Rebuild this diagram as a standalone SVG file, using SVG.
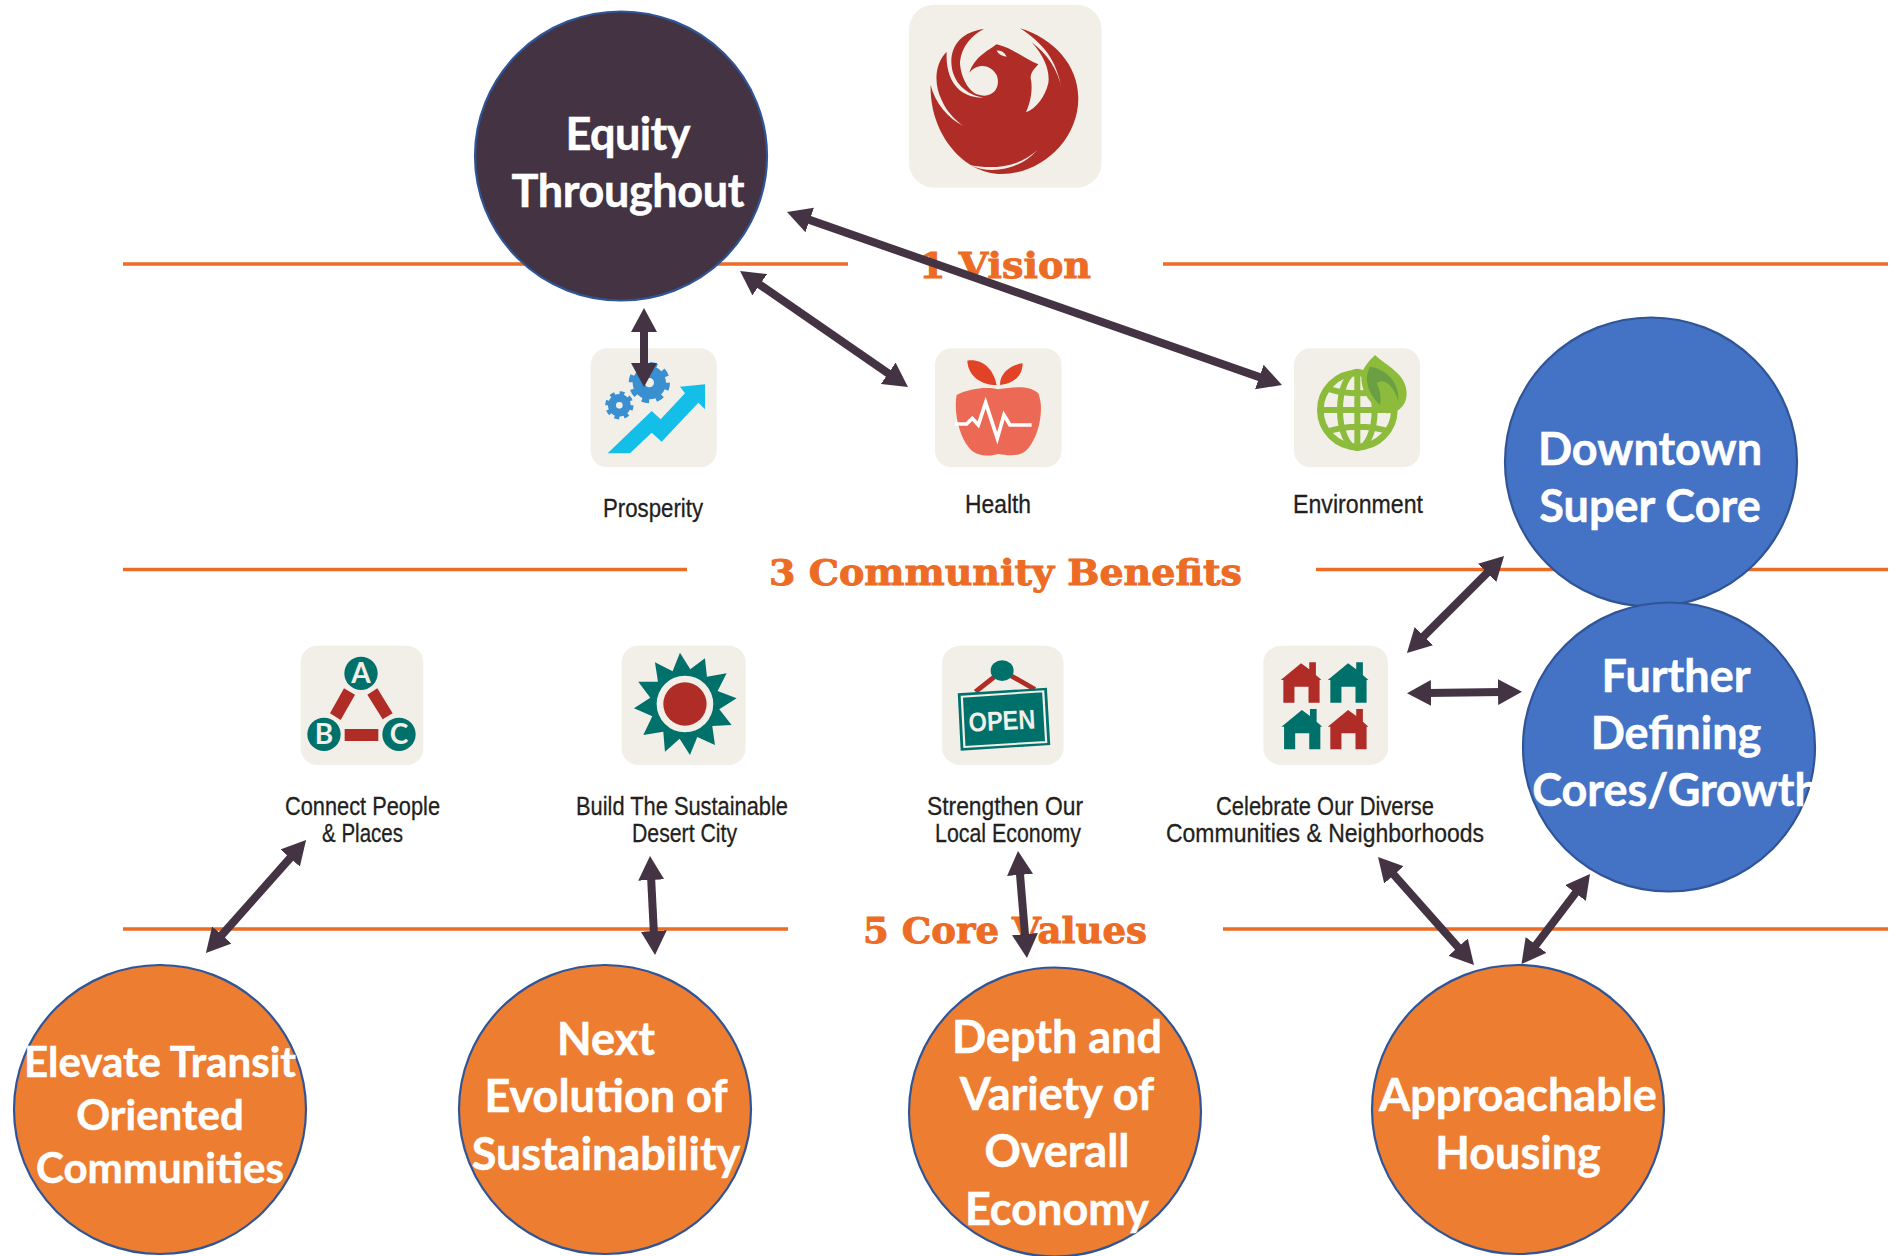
<svg xmlns="http://www.w3.org/2000/svg" width="1901" height="1256" viewBox="0 0 1901 1256">
<style>
.rule{stroke:#EC6B25;stroke-width:3.5;fill:none}
.head{font-family:"DejaVu Serif",serif;font-weight:700;font-size:35px;fill:#EC6B25;stroke:#EC6B25;stroke-width:.9}
.c{stroke:#2F5597;stroke-width:2.2}
.dark{fill:#433343}.blue{fill:#4472C4}.orange{fill:#ED7D31}
.t{font-family:Lato,"Open Sans",sans-serif;font-weight:700;font-size:45px;fill:#fff;stroke:#fff;stroke-width:.5;text-anchor:middle}
.e{font-size:42px}
.l{font-family:"Liberation Sans Narrow","Liberation Sans",sans-serif;font-size:26px;fill:#231f20;stroke:#231f20;stroke-width:.3}
.tile{fill:#F1EFE8}
.arr{stroke:#433343;stroke-width:8;fill:none;marker-start:url(#ah);marker-end:url(#ah)}
.teal{fill:#00716A}.red{fill:#B02D27}
</style>
<defs>
<marker id="ah" markerUnits="userSpaceOnUse" markerWidth="25" markerHeight="26" refX="4" refY="13" orient="auto-start-reverse"><path d="M0 0L24 13L0 26Z" fill="#433343"/></marker>
<path id="house" d="M975 150L1030 100L1052 118V97H1070V135L1085 150H1080V218H1050V170H1012V218H982V150Z"/>
</defs>
<rect width="1901" height="1256" fill="#fff"/>
<g id="rules">
<path class="rule" d="M123 264H848M1163 264H1888M123 569.5H687M1316 569.5H1888M123 929H788M1223 929H1888"/>
<text class="head" x="919" y="278" textLength="172" lengthAdjust="spacingAndGlyphs">1 Vision</text>
<text class="head" x="769" y="585" textLength="473" lengthAdjust="spacingAndGlyphs">3 Community Benefits</text>
<text class="head" x="863" y="943" textLength="284" lengthAdjust="spacingAndGlyphs">5 Core Values</text>
</g>
<g id="logo" transform="translate(880 0) scale(.3333)">
<rect class="tile" x="87" y="14" width="578" height="549" rx="75"/>
<path class="red" d="M152 255C148 400 250 522 365 522C485 522 595 420 595 295C595 195 520 115 420 85C490 130 530 180 545 268C535 210 500 160 455 127C495 170 510 215 505 250C495 290 470 325 438 337C455 300 458 260 452 235C452 215 465 205 475 193C440 180 400 145 350 133C320 155 285 170 268 218C290 190 330 190 350 225C365 265 335 295 300 285C265 280 240 225 240 185C245 140 275 105 312 87C250 95 215 130 214 185C215 235 245 280 310 293C250 295 195 255 200 155C165 190 160 250 185 300C200 335 225 360 250 378C205 355 165 310 152 255Z"/>
<path fill="#F1EFE8" d="M270 495C340 510 420 500 472 450C420 510 330 525 270 495ZM350 152C365 150 375 160 380 170C365 168 355 162 350 152Z"/>
</g>
<g id="prosperity">
<g transform="translate(570 330) scale(.3333)">
<rect class="tile" x="62" y="55" width="378" height="357" rx="50"/>
<path fill="#13BEE8" d="M113 370L245 243L272 268L345 190L330 170L405 163V238L385 218L275 335L245 308L180 370Z"/>
<circle cx="238" cy="158" r="32" fill="#F1EFE8" stroke="#3A8FD0" stroke-width="36"/>
<circle cx="238" cy="158" r="55" fill="none" stroke="#3A8FD0" stroke-width="14" stroke-dasharray="22 21.2"/>
<circle cx="148" cy="226" r="22" fill="#F1EFE8" stroke="#3A8FD0" stroke-width="24"/>
<circle cx="148" cy="226" r="37" fill="none" stroke="#3A8FD0" stroke-width="11" stroke-dasharray="14.5 14.5"/>
</g>
<text class="l" x="603" y="517" textLength="100" lengthAdjust="spacingAndGlyphs">Prosperity</text>
</g>
<g id="health">
<g transform="translate(570 330) scale(.3333)">
<rect class="tile" x="1095" y="55" width="380" height="357" rx="50"/>
<path fill="#E24327" d="M1192 92C1230 85 1270 110 1280 165C1235 165 1195 140 1192 92ZM1290 165C1290 130 1320 105 1358 100C1358 140 1330 160 1290 165Z"/>
<path fill="#EC6A55" d="M1160 195C1200 175 1250 170 1285 178C1330 170 1380 165 1405 190C1425 240 1405 320 1375 355C1350 385 1310 375 1285 372C1260 380 1215 380 1195 350C1170 320 1150 250 1160 195Z"/>
<path fill="none" stroke="#fff" stroke-width="11" d="M1155 282H1190L1207 265L1225 285L1247 218L1282 325L1302 255L1320 285H1385"/>
</g>
<text class="l" x="965" y="513" textLength="66" lengthAdjust="spacingAndGlyphs">Health</text>
</g>
<g id="environment">
<g transform="translate(1270 330) scale(.3333)">
<rect class="tile" x="72" y="55" width="378" height="357" rx="50"/>
<circle cx="262" cy="240" r="111" fill="#F1EFE8" stroke="#8DBB3C" stroke-width="20"/>
<g fill="none" stroke="#8DBB3C" stroke-width="18"><ellipse cx="262" cy="240" rx="52" ry="115"/><path d="M262 125V355M150 240H375M170 175C230 195 300 195 360 175M170 305C230 285 300 285 360 305"/></g>
<path fill="#8DBB3C" d="M315 75C345 105 410 130 410 190C410 235 375 250 350 250C310 235 268 190 275 130C285 105 300 90 315 75Z"/>
<path fill="#6A9F43" d="M300 110C340 115 390 150 385 215C375 170 340 140 320 160C330 180 335 205 330 225C295 190 280 150 300 110Z"/>
</g>
<text class="l" x="1293" y="513" textLength="130" lengthAdjust="spacingAndGlyphs">Environment</text>
</g>
<g id="connect">
<g transform="translate(270 630) scale(.3333)">
<rect class="tile" x="92" y="47" width="368" height="358" rx="50"/>
<path class="red" d="M222 175L255 194L212 270L180 250ZM292 194L322 175L368 250L338 268ZM224 297H325V333H224Z"/>
<g class="teal"><circle cx="273" cy="130" r="50"/><circle cx="162" cy="313" r="50"/><circle cx="387" cy="313" r="50"/></g>
</g>
<g font-family="Lato,sans-serif" font-weight="700" font-size="28" fill="#F1EFE8" text-anchor="middle"><text x="361" y="683">A</text><text x="324" y="744">B</text><text x="399" y="744">C</text></g>
<text class="l" x="285" y="815" textLength="155" lengthAdjust="spacingAndGlyphs">Connect People</text>
<text class="l" x="322" y="842" textLength="81" lengthAdjust="spacingAndGlyphs">&amp; Places</text>
</g>
<g id="sustainable">
<g transform="translate(270 630) scale(.3333)">
<rect class="tile" x="1055" y="47" width="372" height="358" rx="50"/>
<path class="teal" d="M1230 68L1261 118L1305 85L1311 140L1370 130L1343 183L1400 205L1348 238L1385 285L1327 288L1335 345L1282 321L1260 375L1229 326L1185 365L1180 305L1120 315L1147 259L1092 235L1141 203L1105 155L1164 155L1155 97L1208 124Z"/>
<circle cx="1245" cy="222" r="85" fill="#F1EFE8"/><circle class="red" cx="1245" cy="222" r="65"/>
</g>
<text class="l" x="576" y="815" textLength="212" lengthAdjust="spacingAndGlyphs">Build The Sustainable</text>
<text class="l" x="632" y="842" textLength="105" lengthAdjust="spacingAndGlyphs">Desert City</text>
</g>
<g id="economy">
<g transform="translate(920 630) scale(.37 .3333)">
<rect class="tile" x="60" y="47" width="328" height="358" rx="50"/>
<path fill="none" stroke="#B02D27" stroke-width="14" d="M150 185L222 122L310 178"/>
<circle class="teal" cx="222" cy="122" r="31"/>
<path class="teal" d="M102 190L343 173L352 345L110 362Z"/>
<path fill="none" stroke="#F1EFE8" stroke-width="6" d="M113 200L333 184L341 336L120 351Z"/>
</g>
<text x="1002" y="730" font-family="Liberation Sans,sans-serif" font-weight="700" font-size="27" fill="#F1EFE8" text-anchor="middle" textLength="67" lengthAdjust="spacingAndGlyphs" transform="rotate(-3 1002 721)">OPEN</text>
<text class="l" x="927" y="815" textLength="156" lengthAdjust="spacingAndGlyphs">Strengthen Our</text>
<text class="l" x="935" y="842" textLength="146" lengthAdjust="spacingAndGlyphs">Local Economy</text>
</g>
<g id="neighborhoods">
<g transform="translate(920 630) scale(.37 .3333)">
<rect class="tile" x="928" y="47" width="337" height="358" rx="50"/>
<use href="#house" class="red"/>
<use href="#house" class="teal" x="127"/>
<use href="#house" class="teal" x="2" y="140"/>
<use href="#house" class="red" x="127" y="140"/>
</g>
<text class="l" x="1216" y="815" textLength="218" lengthAdjust="spacingAndGlyphs">Celebrate Our Diverse</text>
<text class="l" x="1166" y="842" textLength="318" lengthAdjust="spacingAndGlyphs">Communities &amp; Neighborhoods</text>
</g>
<g id="equity"><ellipse class="c dark" cx="621" cy="156" rx="146" ry="144.5"/><text class="t" x="628" y="150" textLength="125">Equity</text><text class="t" x="628" y="207" textLength="233">Throughout</text></g>
<g id="downtown"><ellipse class="c blue" cx="1651" cy="462" rx="146" ry="144.5"/><text class="t" x="1650" y="465">Downtown</text><text class="t" x="1650" y="522">Super Core</text></g>
<g id="further"><ellipse class="c blue" cx="1669" cy="747" rx="146" ry="144.5"/><text class="t" x="1676" y="692">Further</text><text class="t" x="1676" y="749">Defining</text><text class="t" x="1676" y="806">Cores/Growth</text></g>
<g id="elevate"><ellipse class="c orange" cx="160" cy="1109.5" rx="146" ry="144.5"/><text class="t e" x="160" y="1077">Elevate Transit</text><text class="t e" x="160" y="1130">Oriented</text><text class="t e" x="160" y="1183">Communities</text></g>
<g id="next"><ellipse class="c orange" cx="605" cy="1109.5" rx="146" ry="144.5"/><text class="t" x="606" y="1055">Next</text><text class="t" x="606" y="1112">Evolution of</text><text class="t" x="606" y="1170">Sustainability</text></g>
<g id="depth"><ellipse class="c orange" cx="1055" cy="1112" rx="146" ry="144.5"/><text class="t" x="1057" y="1053">Depth and</text><text class="t" x="1057" y="1110">Variety of</text><text class="t" x="1057" y="1167">Overall</text><text class="t" x="1057" y="1225">Economy</text></g>
<g id="housing"><ellipse class="c orange" cx="1518" cy="1109.5" rx="146" ry="144.5"/><text class="t" x="1518" y="1111">Approachable</text><text class="t" x="1518" y="1169">Housing</text></g>
<g id="connectors">
<path class="arr" d="M644 328L644 367"/>
<path class="arr" d="M756.5 282.4L891.5 375.6"/>
<path class="arr" d="M805.9 218.6L1263.1 378.4"/>
<path class="arr" d="M1489.9 570.1L1421.1 638.9"/>
<path class="arr" d="M1427 693L1502 692"/>
<path class="arr" d="M1391.3 871.9L1460.7 950.1"/>
<path class="arr" d="M1577.9 889.9L1533.6 948.1"/>
<path class="arr" d="M1019.7 870.9L1025.3 938.1"/>
<path class="arr" d="M651 876L654 935"/>
<path class="arr" d="M292.8 855L219.2 938"/>
</g>
</svg>
